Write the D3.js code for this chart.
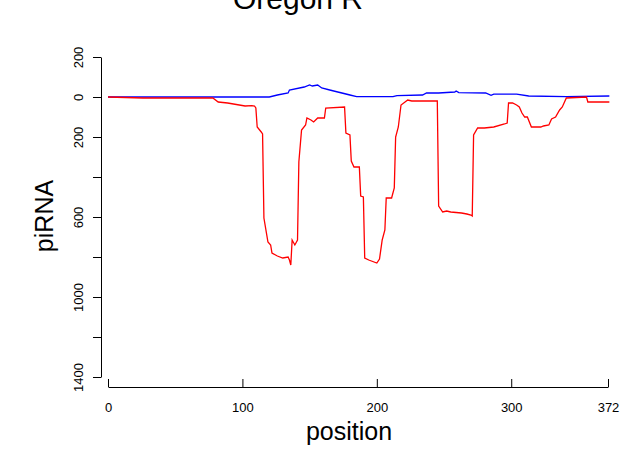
<!DOCTYPE html>
<html lang="en">
<head>
    <meta charset="UTF-8">
    <title>Oregon R</title>
    <script src="https://d3js.org/d3.v7.min.js"></script>
    <style>
        body { margin: 0; background: #ffffff; }
        svg { display: block; font-family: "Liberation Sans", Arial, Helvetica, sans-serif; }
    </style>
</head>
<body>
    <div id="chart"></div>
    <script>
        // Red series (plotted downward) and blue series
        const redPos = [0, 26, 78, 82, 89, 102, 107, 109, 110, 111, 114, 115, 116, 119, 121, 122, 126, 130, 134, 135, 136, 137, 139, 141, 142, 144, 147, 148, 151, 153, 156, 161, 162, 176, 177, 180, 181, 183, 187, 188, 190, 191, 194, 200, 202, 204, 206, 207, 211, 213, 214, 216, 218, 223, 226, 245, 246, 249, 252, 255, 263, 267, 270, 271, 272, 275, 280, 287, 295, 297, 298, 301, 304, 306, 308, 310, 312, 315, 322, 324, 328, 330, 333, 336, 338, 341, 356, 357, 373];
        const redVal = [0, -5, -5, -25, -30, -45, -43, -45, -55, -150, -175, -185, -605, -725, -740, -780, -795, -805, -800, -815, -840, -715, -740, -715, -325, -165, -140, -105, -115, -125, -105, -105, -55, -50, -180, -190, -320, -350, -350, -495, -500, -805, -815, -830, -810, -715, -665, -505, -505, -455, -200, -150, -40, -15, -20, -20, -545, -575, -570, -575, -580, -585, -590, -595, -190, -155, -155, -150, -135, -130, -30, -30, -40, -50, -80, -100, -100, -150, -150, -145, -140, -110, -100, -65, -50, -5, 0, -25, -25];

        const bluePos = [0, 120, 126, 134, 135, 146, 150, 152, 156, 159, 165, 174, 180, 185, 212, 215, 234, 237, 246, 258, 259, 261, 281, 285, 287, 304, 313, 341, 373];
        const blueVal = [0, 0, 10, 20, 35, 50, 60, 55, 60, 45, 35, 20, 10, 2, 2, 7, 10, 20, 20, 25, 30, 22, 20, 8, 14, 14, 5, 2, 5];

        const xTicks = [0, 100, 200, 300, 372];
        const yTicks = [200, 0, -200, -400, -600, -800, -1000, -1200, -1400];
        const yTickLabels = ["200", "0", "200", "", "600", "", "1000", "", "1400"];

        const W = 620, H = 449;

        const svg = d3.select("#chart")
            .append("svg")
            .attr("width", W)
            .attr("height", H);

        const x = d3.scaleLinear().domain([0, 372]).range([108, 608]);
        const y = d3.scaleLinear().domain([200, -1400]).range([57, 377]);

        // x axis, ticks pointing up
        const xAxis = svg.append("g")
            .attr("transform", "translate(0,387)")
            .call(d3.axisBottom(x).tickValues(xTicks).tickFormat(d3.format("d"))
                .tickSize(-8).tickSizeOuter(0).tickPadding(16));
        xAxis.selectAll("path, line").attr("stroke", "#000");
        xAxis.selectAll("text").attr("fill", "#000").style("font-size", "13px");

        // y axis with rotated labels
        const yAxis = svg.append("g")
            .attr("transform", "translate(101,0)")
            .call(d3.axisLeft(y).tickValues(yTicks)
                .tickFormat((d, i) => yTickLabels[i])
                .tickSize(8).tickSizeOuter(0));
        yAxis.selectAll("path, line").attr("stroke", "#000");
        yAxis.selectAll("text")
            .attr("x", 0)
            .attr("dy", 0)
            .attr("transform", "translate(-18,0) rotate(-90)")
            .attr("text-anchor", "middle")
            .attr("fill", "#000")
            .style("font-size", "13px");

        const line = d3.line()
            .x(d => x(d[0]))
            .y(d => y(d[1]));

        svg.append("path")
            .datum(bluePos.map((p, i) => [p, blueVal[i]]))
            .attr("d", line)
            .attr("fill", "none")
            .attr("stroke", "#0000ff")
            .attr("stroke-width", 1.3);

        svg.append("path")
            .datum(redPos.map((p, i) => [p, redVal[i]]))
            .attr("d", line)
            .attr("fill", "none")
            .attr("stroke", "#ff0000")
            .attr("stroke-width", 1.3);

        // title and axis labels
        svg.append("text")
            .attr("x", 298)
            .attr("y", 9)
            .attr("text-anchor", "middle")
            .style("font-size", "30px")
            .text("Oregon R");

        svg.append("text")
            .attr("x", 349)
            .attr("y", 440)
            .attr("text-anchor", "middle")
            .style("font-size", "25px")
            .text("position");

        svg.append("text")
            .attr("transform", "translate(53,216) rotate(-90)")
            .attr("text-anchor", "middle")
            .style("font-size", "25px")
            .text("piRNA");
    </script>
</body>
</html>
